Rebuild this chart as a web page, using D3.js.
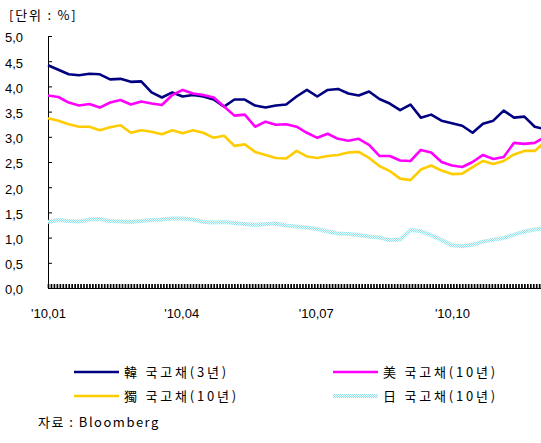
<!DOCTYPE html>
<html>
<head>
<meta charset="utf-8">
<script src="https://cdnjs.cloudflare.com/ajax/libs/d3/7.8.5/d3.min.js"></script>
<style>
    body { margin: 0; background: #fff; }
    text { font-family: "Liberation Sans", Arial, sans-serif; font-size: 13px; fill: #000; }
    .kr { font-family: "Noto Sans CJK KR", "Liberation Sans", sans-serif; }
</style>
</head>
<body>
<div id="chart"></div>
<script>
// weekly observation dates
var dates = ["2010-01-01","2010-01-08","2010-01-15","2010-01-22","2010-01-29",
    "2010-02-05","2010-02-12","2010-02-19","2010-02-26",
    "2010-03-05","2010-03-12","2010-03-19","2010-03-26",
    "2010-04-02","2010-04-09","2010-04-16","2010-04-23","2010-04-30",
    "2010-05-07","2010-05-14","2010-05-21","2010-05-28",
    "2010-06-04","2010-06-11","2010-06-18","2010-06-25",
    "2010-07-02","2010-07-09","2010-07-16","2010-07-23","2010-07-30",
    "2010-08-06","2010-08-13","2010-08-20","2010-08-27",
    "2010-09-03","2010-09-10","2010-09-17","2010-09-24",
    "2010-10-01","2010-10-08","2010-10-15","2010-10-22","2010-10-29",
    "2010-11-05","2010-11-12","2010-11-19","2010-11-26",
    "2010-12-03"];

var korea3y = [4.42,4.33,4.24,4.22,4.25,4.24,4.14,4.15,4.09,4.10,3.88,3.78,3.88,
    3.80,3.83,3.80,3.74,3.60,3.74,3.74,3.62,3.58,3.62,3.64,3.80,3.93,
    3.80,3.93,3.95,3.86,3.82,3.90,3.75,3.66,3.53,3.64,3.38,3.44,3.32,
    3.27,3.22,3.08,3.26,3.32,3.52,3.38,3.40,3.20,3.15];

var us10y = [3.82,3.79,3.68,3.62,3.65,3.58,3.68,3.73,3.64,3.70,3.66,3.63,3.83,
    3.93,3.86,3.83,3.78,3.60,3.42,3.44,3.20,3.30,3.24,3.25,3.20,3.08,
    2.98,3.06,2.96,2.92,2.96,2.84,2.62,2.62,2.53,2.52,2.74,2.69,2.50,
    2.43,2.40,2.50,2.64,2.56,2.60,2.88,2.86,2.88,3.00];

var germany10y = [3.37,3.32,3.25,3.20,3.20,3.13,3.19,3.23,3.08,3.13,3.10,3.05,3.13,
    3.07,3.13,3.08,2.98,3.02,2.82,2.85,2.70,2.64,2.58,2.57,2.72,2.61,
    2.58,2.62,2.64,2.69,2.70,2.58,2.42,2.32,2.17,2.14,2.35,2.43,2.33,
    2.26,2.27,2.40,2.52,2.46,2.52,2.65,2.72,2.72,2.90];

var japan10y = [1.31,1.35,1.33,1.32,1.36,1.37,1.33,1.32,1.31,1.33,1.35,1.36,1.38,
    1.38,1.36,1.31,1.30,1.31,1.29,1.27,1.25,1.27,1.28,1.24,1.22,1.20,
    1.17,1.12,1.08,1.07,1.05,1.02,1.00,0.95,0.96,1.15,1.13,1.05,0.95,
    0.85,0.83,0.86,0.92,0.96,0.99,1.06,1.12,1.16,1.19];

var seriesNames = ["韓 국고채(3년)", "美 국고채(10년)", "獨 국고채(10년)", "日 국고채(10년)"];
var seriesColors = ["#000080", "#ff00ff", "#ffcc00", "url(#dots)"];

var yTicks = [0, 0.5, 1, 1.5, 2, 2.5, 3, 3.5, 4, 4.5, 5];
var xTickDates = ["2010-01-01", "2010-04-01", "2010-07-01", "2010-10-01"];
var xTickLabels = ["'10,01", "'10,04", "'10,07", "'10,10"];

var unitLabel = "[단위 : %]";
var sourceLabel = "자료 : Bloomberg";


var parseDate = d3.timeParse("%Y-%m-%d");

var margin = {top: 36, left: 48};
var width = 540, height = 252;

var svg = d3.select("#chart").append("svg")
    .attr("width", 541)
    .attr("height", 443);

// dotted texture for the japan line
var pat = svg.append("defs").append("pattern")
    .attr("id", "dots")
    .attr("patternUnits", "userSpaceOnUse")
    .attr("width", 2)
    .attr("height", 2);
pat.append("rect").attr("width", 2).attr("height", 2).attr("fill", "#effcfc");
pat.append("rect").attr("width", 1).attr("height", 1).attr("fill", "#8fe2ea");
pat.append("rect").attr("x", 1).attr("y", 1).attr("width", 1).attr("height", 1).attr("fill", "#8fe2ea");

var g = svg.append("g")
    .attr("transform", "translate(" + margin.left + "," + margin.top + ")");

var x = d3.scaleTime()
    .domain([parseDate("2010-01-01"), parseDate("2011-01-01")])
    .range([0, width]);

var y = d3.scaleLinear()
    .domain([0, 5])
    .range([height, 0]);

// y axis
var yAxis = d3.axisLeft(y)
    .tickValues(yTicks)
    .tickSize(-4)
    .tickSizeOuter(0)
    .tickPadding(25)
    .tickFormat(function(d) { return d3.format(".1f")(d).replace(".", ","); });

var yg = g.append("g").call(yAxis);
yg.selectAll("text").attr("dy", "0.45em").attr("font-size", 13).attr("font-family", null);

// x axis: dense day ticks
var dayTicks = d3.timeDay.range(parseDate("2010-01-01"), parseDate("2011-01-01"), 2);
var xAxis = d3.axisBottom(x)
    .tickValues(dayTicks)
    .tickSize(-4)
    .tickSizeOuter(0)
    .tickFormat("");

var xg = g.append("g")
    .attr("transform", "translate(0," + height + ")")
    .call(xAxis);
xg.selectAll(".tick line").attr("stroke-width", 1.7);

// x axis quarter labels
var labelAxis = d3.axisBottom(x)
    .tickValues(xTickDates.map(parseDate))
    .tickSize(0)
    .tickPadding(21)
    .tickFormat(function(d, i) { return xTickLabels[i]; });

var lg = g.append("g")
    .attr("transform", "translate(0," + height + ")")
    .call(labelAxis);
lg.select(".domain").remove();
lg.selectAll("text").attr("font-size", 13).attr("font-family", null);

// lines
var series = [korea3y, us10y, germany10y, japan10y].map(function(vals, i) {
    return {
        name: seriesNames[i],
        color: seriesColors[i],
        values: vals.map(function(v, j) { return {date: parseDate(dates[j]), v: v}; })
    };
});

var line = d3.line()
    .x(function(d) { return x(d.date); })
    .y(function(d) { return y(d.v); });

var drawOrder = [3, 2, 0, 1];
drawOrder.forEach(function(i) {
    var s = series[i];
    g.append("path")
        .datum(s.values)
        .attr("fill", "none")
        .attr("stroke", s.color)
        .attr("stroke-width", i === 3 ? 4 : 2.6)
        .attr("stroke-linejoin", "round")
        .attr("d", line);
});

// unit label
svg.append("text")
    .attr("class", "kr")
    .attr("x", 9)
    .attr("y", 20)
    .attr("letter-spacing", 1.8)
    .text(unitLabel);

// legend
var legendCols = [74, 333], legendRows = [372, 396];
series.forEach(function(s, i) {
    var lx = legendCols[i % 2], ly = legendRows[Math.floor(i / 2)];
    svg.append("line")
        .attr("x1", lx).attr("x2", lx + 45)
        .attr("y1", ly).attr("y2", ly)
        .attr("stroke", s.color)
        .attr("stroke-width", i === 3 ? 4 : 2.6);
    svg.append("text")
        .attr("class", "kr")
        .attr("x", lx + 50)
        .attr("y", ly + 5)
        .attr("letter-spacing", 2.8)
        .text(s.name);
});

svg.append("text")
    .attr("class", "kr")
    .attr("x", 38)
    .attr("y", 427)
    .attr("letter-spacing", 1.5)
    .text(sourceLabel);
</script>
</body>
</html>
